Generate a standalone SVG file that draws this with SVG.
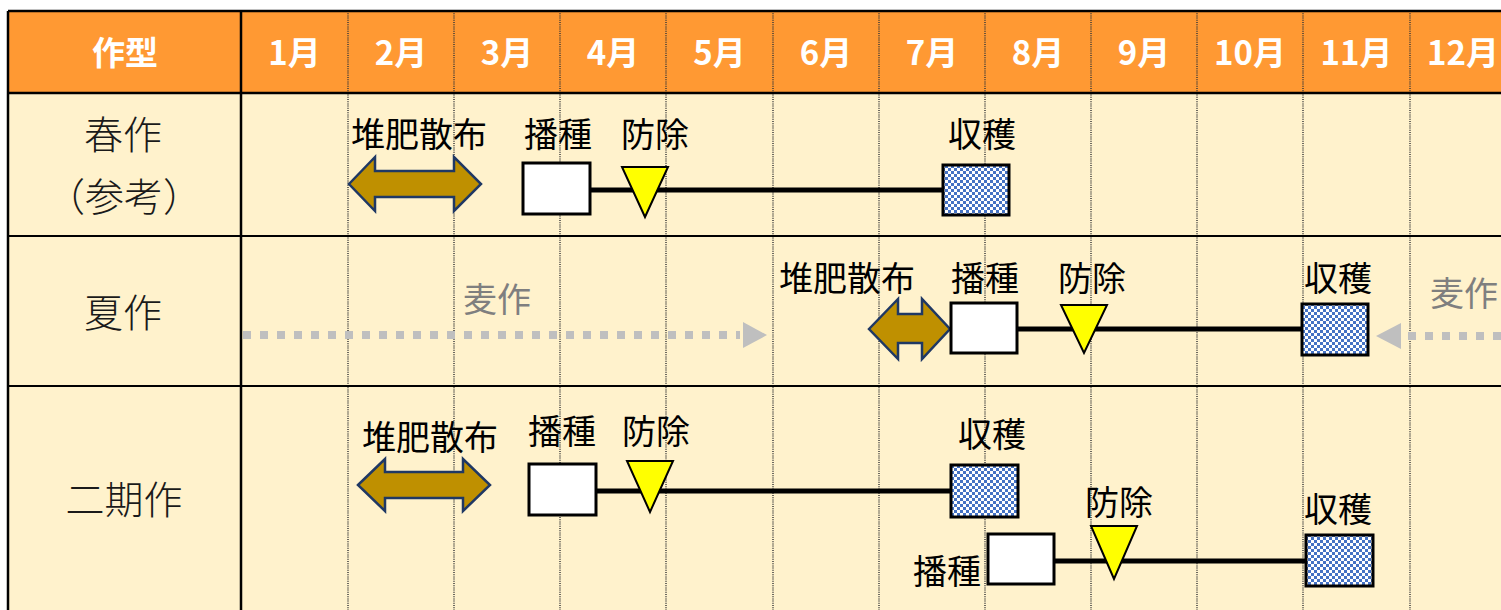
<svg xmlns="http://www.w3.org/2000/svg" width="1501" height="610" viewBox="0 0 1501 610">
<style>
text{font-family:"Noto Sans CJK JP","Noto Sans",sans-serif;dominant-baseline:central;text-anchor:middle}
.hd{fill:#fff;font-weight:bold;font-size:33px}
.rl{fill:#1a1a1a;font-size:39px;font-weight:300}
.lb{fill:#000;font-size:34px}
.gy{fill:#7f7f7f;font-size:34px}
.mon{stroke:#3a3a3a;stroke-width:1.5;stroke-dasharray:1 1.2}
.solid{stroke:#000;stroke-width:2.5}
.sow{fill:#fff;stroke:#000;stroke-width:3}
.har{fill:url(#chk);stroke:#000;stroke-width:3}
.tri{fill:#ffff00;stroke:#000;stroke-width:2}
.dbl{fill:#bf9000;stroke:#1f3864;stroke-width:2.5;stroke-linejoin:miter}
.span{stroke:#000;stroke-width:5}
.dots{stroke:#bfbfbf;stroke-width:8;stroke-dasharray:8 9}
.dhead{fill:#bfbfbf}
</style>
<defs>
<pattern id="chk" width="6" height="6" patternUnits="userSpaceOnUse">
<rect width="6" height="6" fill="#fff"/>
<rect width="3" height="3" fill="#4472c4"/>
<rect x="3" y="3" width="3" height="3" fill="#4472c4"/>
</pattern>
</defs>
<g id="table">
<rect x="8" y="11" width="1500" height="82" fill="#ff9933"/>
<rect x="8" y="93" width="1500" height="520" fill="#fff2cc"/>
<line class="mon" x1="348" y1="11" x2="348" y2="610"/>
<line class="mon" x1="454" y1="11" x2="454" y2="610"/>
<line class="mon" x1="560" y1="11" x2="560" y2="610"/>
<line class="mon" x1="666" y1="11" x2="666" y2="610"/>
<line class="mon" x1="773" y1="11" x2="773" y2="610"/>
<line class="mon" x1="879" y1="11" x2="879" y2="610"/>
<line class="mon" x1="985" y1="11" x2="985" y2="610"/>
<line class="mon" x1="1091" y1="11" x2="1091" y2="610"/>
<line class="mon" x1="1197" y1="11" x2="1197" y2="610"/>
<line class="mon" x1="1303" y1="11" x2="1303" y2="610"/>
<line class="mon" x1="1410" y1="11" x2="1410" y2="610"/>
<line class="solid" x1="241" y1="11" x2="241" y2="610"/>
<line class="solid" x1="8" y1="11" x2="8" y2="610"/>
<line class="solid" x1="8" y1="11" x2="1501" y2="11"/>
<line class="solid" x1="8" y1="93" x2="1501" y2="93"/>
<line class="solid" x1="8" y1="236" x2="1501" y2="236" style="stroke-width:2"/>
<line class="solid" x1="8" y1="386" x2="1501" y2="386" style="stroke-width:2"/>
</g>
<g id="header">
<text class="hd" x="125" y="51">作型</text>
<text class="hd" x="294.5" y="51">1月</text>
<text class="hd" x="401" y="51">2月</text>
<text class="hd" x="507" y="51">3月</text>
<text class="hd" x="613" y="51">4月</text>
<text class="hd" x="719.5" y="51">5月</text>
<text class="hd" x="826" y="51">6月</text>
<text class="hd" x="932" y="51">7月</text>
<text class="hd" x="1038" y="51">8月</text>
<text class="hd" x="1144" y="51">9月</text>
<text class="hd" x="1250" y="51">10月</text>
<text class="hd" x="1356.5" y="51">11月</text>
<text class="hd" x="1463" y="51">12月</text>
</g>
<g id="row-labels">
<text class="rl" x="123" y="132">春作</text>
<text class="rl" x="124" y="194">（参考）</text>
<text class="rl" x="123" y="310">夏作</text>
<text class="rl" x="124" y="497">二期作</text>
</g>
<g id="connectors">
<line class="span" x1="590" y1="190" x2="943" y2="190"/>
<line class="span" x1="1017" y1="329" x2="1302" y2="329"/>
<line class="span" x1="596" y1="491" x2="951" y2="491"/>
<line class="span" x1="1054" y1="561" x2="1306" y2="561"/>
<line class="dots" x1="243" y1="335" x2="740" y2="335"/>
<polygon class="dhead" points="743,322 767,335 743,348"/>
<line class="dots" x1="1408" y1="336" x2="1501" y2="336"/>
<polygon class="dhead" points="1401,323 1376,336 1401,349"/>
</g>
<g id="spring">
<g id="spring-compost">
<text class="lb" x="419" y="132">堆肥散布</text>
<path class="dbl" d="M349,184 L375,157 L375,171 L454,171 L454,157 L481,184 L454,211 L454,197 L375,197 L375,211 Z"/>
</g>
<g id="spring-sow">
<text class="lb" x="558" y="132">播種</text>
<rect class="sow" x="523" y="163" width="67" height="51"/>
</g>
<g id="spring-pest">
<text class="lb" x="655" y="132">防除</text>
<polygon class="tri" points="622,167 668,167 645,217"/>
</g>
<g id="spring-harvest">
<text class="lb" x="982" y="132">収穫</text>
<rect class="har" x="943" y="165" width="66" height="50"/>
</g>
</g>
<g id="summer">
<g id="summer-wheat-left">
<text class="gy" x="497" y="297">麦作</text>
</g>
<g id="summer-compost">
<text class="lb" x="847" y="276">堆肥散布</text>
<path class="dbl" d="M869,329 L898,299 L898,314 L922,314 L922,299 L950,329 L922,359 L922,343 L898,343 L898,359 Z"/>
</g>
<g id="summer-sow">
<text class="lb" x="985" y="276">播種</text>
<rect class="sow" x="951" y="303" width="66" height="50"/>
</g>
<g id="summer-pest">
<text class="lb" x="1092" y="276">防除</text>
<polygon class="tri" points="1061,305 1107,305 1084,353"/>
</g>
<g id="summer-harvest">
<text class="lb" x="1338" y="276">収穫</text>
<rect class="har" x="1302" y="304" width="66" height="51"/>
</g>
<g id="summer-wheat-right">
<text class="gy" x="1464" y="291">麦作</text>
</g>
</g>
<g id="double">
<g id="double-compost">
<text class="lb" x="430" y="435">堆肥散布</text>
<path class="dbl" d="M358,485 L385,459 L385,472 L463,472 L463,459 L490,485 L463,511 L463,498 L385,498 L385,511 Z"/>
</g>
<g id="double-sow1">
<text class="lb" x="562" y="429">播種</text>
<rect class="sow" x="529" y="464" width="67" height="51"/>
</g>
<g id="double-pest1">
<text class="lb" x="656" y="429">防除</text>
<polygon class="tri" points="627,461 673,461 650,512"/>
</g>
<g id="double-harvest1">
<text class="lb" x="992" y="432">収穫</text>
<rect class="har" x="951" y="465" width="67" height="52"/>
</g>
<g id="double-sow2">
<text class="lb" x="947" y="569">播種</text>
<rect class="sow" x="988" y="534" width="66" height="50"/>
</g>
<g id="double-pest2">
<text class="lb" x="1119" y="500">防除</text>
<polygon class="tri" points="1091,526 1137,526 1114,579"/>
</g>
<g id="double-harvest2">
<text class="lb" x="1338" y="507">収穫</text>
<rect class="har" x="1306" y="535" width="67" height="51"/>
</g>
</g>
</svg>
